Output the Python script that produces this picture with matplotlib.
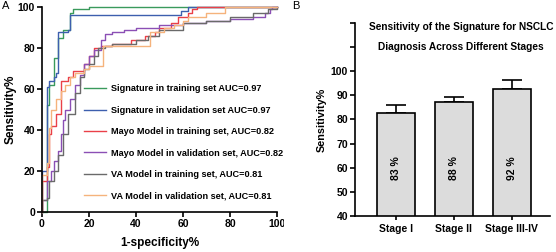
import numpy as np
import matplotlib
matplotlib.use("Agg")
import matplotlib.pyplot as plt
from matplotlib.patches import Rectangle

plt.rcParams['font.family'] = ['Liberation Sans', 'DejaVu Sans']
plt.rcParams['font.weight'] = 'bold'

# ---- panel A: ROC curves (1-specificity %, sensitivity %) ----
sig_train_fpr = [0, 2, 2, 3, 5, 7, 9, 12, 13, 20, 100]
sig_train_tpr = [0, 7, 52, 62, 75, 85, 89, 97, 99, 100, 100]

sig_val_fpr = [0, 0, 2, 3, 5, 6, 7, 7, 11, 12, 57, 59, 62, 100]
sig_val_tpr = [0, 20, 61, 64, 66, 68, 73, 88, 89, 96, 96, 98, 100, 100]

mayo_train_fpr = [0, 0, 2, 3, 4, 6, 8, 8, 11, 13, 16, 18, 20, 22, 25, 30, 38, 44, 48, 50, 55, 58, 62, 64, 66, 100]
mayo_train_tpr = [0, 15, 22, 38, 42, 48, 50, 64, 66, 69, 69, 72, 76, 80, 81, 82, 84, 86, 88, 90, 92, 95, 97, 99, 100, 100]

mayo_val_fpr = [0, 0, 2, 2, 4, 5, 7, 8, 9, 10, 12, 14, 16, 18, 20, 22, 25, 27, 30, 35, 40, 50, 60, 70, 80, 90, 95, 97, 98, 100]
mayo_val_tpr = [0, 6, 8, 15, 20, 25, 30, 38, 45, 50, 55, 62, 67, 72, 76, 79, 84, 87, 88, 89, 90, 91, 92, 93, 94, 95, 97, 99, 100, 100]

va_train_fpr = [0, 0, 2, 3, 5, 7, 9, 11, 14, 16, 18, 20, 22, 24, 27, 30, 40, 45, 50, 60, 70, 80, 90, 96, 100]
va_train_tpr = [0, 6, 7, 15, 20, 28, 38, 48, 58, 66, 70, 72, 76, 80, 81, 82, 84, 86, 89, 92, 93, 95, 97, 99, 100]

va_val_fpr = [0, 0, 2, 3, 4, 6, 8, 10, 12, 14, 18, 20, 26, 26, 42, 46, 52, 56, 60, 62, 70, 78, 78, 100]
va_val_tpr = [0, 18, 24, 41, 50, 55, 59, 62, 66, 68, 70, 71, 72, 81, 81, 88, 90, 91, 93, 95, 97, 98, 100, 100]

roc_labels = ["Signature in training set AUC=0.97",
              "Signature in validation set AUC=0.97",
              "Mayo Model in training set, AUC=0.82",
              "Mayo Model in validation set, AUC=0.82",
              "VA Model in training set, AUC=0.81",
              "VA Model in validation set, AUC=0.81"]
roc_colors = ["#3a9a5c", "#3d5fae", "#ea4048", "#8b4fb5", "#6a6a6a", "#f5b37c"]

# ---- panel B: sensitivity by stage ----
stages = ["Stage I", "Stage II", "Stage III-IV"]
sens = [82.8, 87.2, 92.8]
sens_err = [3.3, 2.2, 3.7]
sens_text = ["83 %", "88 %", "92 %"]

fig = plt.figure(figsize=(5.56, 2.52), dpi=100)
axA = fig.add_axes([0.0755, 0.1587, 0.4227, 0.8135])
axB = fig.add_axes([0.6385, 0.1429, 0.3507, 0.7659])
axB.set_zorder(3)

curves = [(sig_train_fpr, sig_train_tpr), (sig_val_fpr, sig_val_tpr),
          (mayo_train_fpr, mayo_train_tpr), (mayo_val_fpr, mayo_val_tpr),
          (va_train_fpr, va_train_tpr), (va_val_fpr, va_val_tpr)]
for (fx, ty), lab, col in zip(curves, roc_labels, roc_colors):
    axA.plot(fx, ty, drawstyle='steps-post', color=col, lw=1.0, label=lab, clip_on=False)

axA.set_xlim(0, 100)
axA.set_ylim(0, 100)
axA.set_xticks(np.arange(0, 101, 20))
axA.set_yticks(np.arange(0, 101, 20))
for sp in ('top', 'right'):
    axA.spines[sp].set_visible(False)
for sp in ('left', 'bottom'):
    axA.spines[sp].set_linewidth(1.2)
axA.tick_params(width=1.2, length=3.5, labelsize=7.5, pad=1.5)
axA.set_xlabel("1-specificity%", fontsize=8.5, fontweight='bold', labelpad=6)
axA.set_ylabel("Sensitivity%", fontsize=8.5, fontweight='bold', labelpad=1)

leg = axA.legend(loc='upper left', bbox_to_anchor=(0.165, 0.64), frameon=False,
                 fontsize=6.6, handlelength=2.4, handletextpad=0.5, labelspacing=1.35,
                 borderaxespad=0)
for t in leg.get_texts():
    t.set_fontweight('bold')

# white cover where panel B starts (legend text is cut there)
fig.patches.append(Rectangle((284 / 556, 0), 1, 1, transform=fig.transFigure,
                             facecolor='white', edgecolor='none', zorder=2))

# ---- panel B drawing ----
x = np.arange(len(stages))
axB.bar(x, sens, width=0.655, color='#dcdcdc', edgecolor='black', linewidth=1.2, zorder=2)
axB.errorbar(x, sens, yerr=[np.zeros(len(sens)), sens_err], fmt='none', ecolor='black',
             elinewidth=1.2, capsize=7, capthick=1.2, zorder=1)
for xi, txt in zip(x, sens_text):
    axB.text(xi, 60, txt, rotation=90, ha='center', va='center', fontsize=7.5, fontweight='bold', zorder=3)

axB.set_xlim(-0.698, 2.66)
axB.set_ylim(40, 120)
axB.set_yticks(np.arange(40, 121, 10))
axB.set_yticklabels([str(v) if v <= 100 else "" for v in range(40, 121, 10)])
axB.set_xticks(x)
axB.set_xticklabels(stages)
for sp in ('top', 'right'):
    axB.spines[sp].set_visible(False)
for sp in ('left', 'bottom'):
    axB.spines[sp].set_linewidth(1.2)
axB.tick_params(axis='y', width=1.2, length=3.5, labelsize=7.5, pad=1.5)
axB.tick_params(axis='x', width=1.2, length=3, labelsize=7.5, pad=3)
axB.set_ylabel("Sensitivity%", fontsize=7.8, fontweight='bold', labelpad=3)
axB.text(0.544, 0.979, "Sensitivity of the Signature for NSCLC", transform=axB.transAxes,
         ha='center', va='center', fontsize=7.3, fontweight='bold')
axB.text(0.544, 0.876, "Diagnosis Across Different Stages", transform=axB.transAxes,
         ha='center', va='center', fontsize=7.3, fontweight='bold')

fig.text(2 / 556, 1 - 6 / 252, "A", fontsize=8, fontweight='normal', va='center', ha='left')
fig.text(292 / 556, 1 - 6 / 252, "B", fontsize=8, fontweight='normal', va='center', ha='left', zorder=4)

fig.savefig("out.png", dpi=100, facecolor='white')
